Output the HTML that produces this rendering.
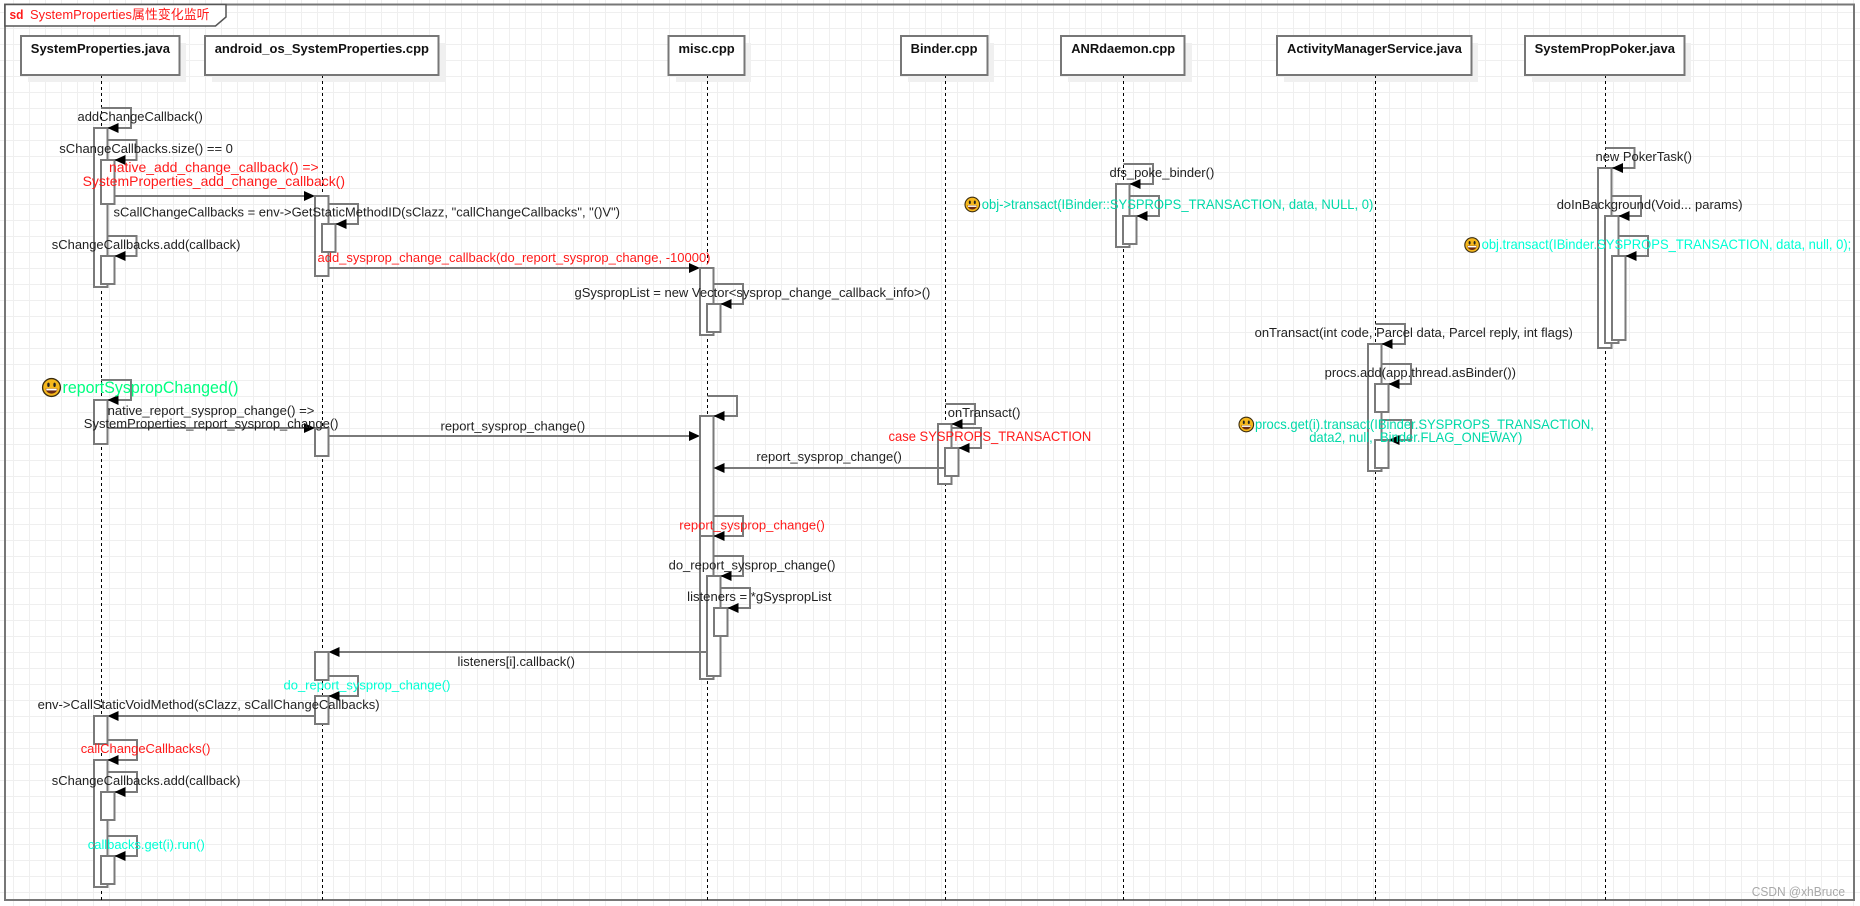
<!DOCTYPE html>
<html><head><meta charset="utf-8"><title>SystemProperties</title>
<style>
html,body{margin:0;padding:0;background:#fff}
svg{display:block}
text{font-family:"Liberation Sans","Noto Sans CJK SC",sans-serif;font-size:13px;fill:#222;white-space:pre}
.h{font-weight:bold;fill:#111}
.r{fill:#ff1a1a;font-size:14px}
.r13{fill:#ff1a1a}
.t{fill:#00d9a9;font-size:14px}
.c{fill:#00ffd5}
.box{fill:#fff;stroke:#777;stroke-width:2}
.a{fill:#fff;stroke:#7a7a7a;stroke-width:2}
.s{fill:none;stroke:#7a7a7a;stroke-width:2}
.l{stroke:#000;stroke-width:1;stroke-dasharray:3 3;fill:none}
.sh{fill:#f0f0f0}
</style></head>
<body>
<svg xmlns="http://www.w3.org/2000/svg" width="1860" height="906" viewBox="0 0 1860 906">
<defs>
<pattern id="g" width="16" height="16" patternUnits="userSpaceOnUse" x="13" y="12">
<path d="M0.5 0V16M0 0.5H16" fill="none" stroke="#efefef" stroke-width="1"/>
</pattern>
<path id="al" d="M0 0l11-5v10z" fill="#000"/>
<path id="ar" d="M0 0l-11-5v10z" fill="#000"/>
<g id="em">
<circle r="7.3" fill="#f6b81c" stroke="#3a2c10" stroke-width="1.1"/>
<ellipse cx="-2.5" cy="-2.2" rx="1" ry="1.8" fill="#222"/>
<ellipse cx="2.5" cy="-2.2" rx="1" ry="1.8" fill="#222"/>
<path d="M-4.8 0.8H4.800C4.500 6.400 -4.500 6.400 -4.800 0.8Z" fill="#6a2a12"/>
<path d="M-4.300 1H4.300V2.400H-4.300Z" fill="#fff"/>
</g>
</defs>
<rect width="1860" height="906" fill="#fff"/>
<rect width="1860" height="906" fill="url(#g)"/>

<!-- frame -->
<rect x="5" y="4.500" width="1849" height="895.500" fill="none" stroke="#777" stroke-width="2"/>
<path d="M5 4.500H226V17L215.500 26H5Z" fill="#fff" stroke="#555" stroke-width="1.500"/>

<!-- actor shadows -->
<rect class="sh" x="28" y="43" width="158" height="39"/>
<rect class="sh" x="212" y="43" width="233" height="39"/>
<rect class="sh" x="676" y="43" width="75" height="39"/>
<rect class="sh" x="908" y="43" width="86" height="39"/>
<rect class="sh" x="1068" y="43" width="124" height="39"/>
<rect class="sh" x="1284" y="43" width="194" height="39"/>
<rect class="sh" x="1532" y="43" width="159" height="39"/>

<!-- lifelines -->
<path class="l" d="M101.500 75V900M322.500 75V900M707.500 75V900M945.500 75V900M1123.500 75V900M1375.500 75V900M1605.500 75V900"/>

<!-- actors -->
<rect class="box" x="21" y="36" width="158.500" height="39"/>
<rect class="box" x="205" y="36" width="233.500" height="39"/>
<rect class="box" x="668.500" y="36" width="76" height="39"/>
<rect class="box" x="901" y="36" width="86.500" height="39"/>
<rect class="box" x="1061" y="36" width="123.500" height="39"/>
<rect class="box" x="1277" y="36" width="194.500" height="39"/>
<rect class="box" x="1525" y="36" width="159.500" height="39"/>

<!-- column 1 top -->
<polyline class="s" points="101,108 131,108 131,128 107,128"/>
<rect class="a" x="94" y="128" width="13.500" height="159"/>
<polyline class="s" points="107,140 136.500,140 136.500,160 114,160"/>
<rect class="a" x="101" y="160" width="13.500" height="44"/>
<polyline class="s" points="107,236 136.500,236 136.500,256 114,256"/>
<rect class="a" x="101" y="256" width="13.500" height="28"/>
<use href="#al" x="107.500" y="128"/><use href="#al" x="114.500" y="160"/><use href="#al" x="114.500" y="256"/>

<!-- column 2 top -->
<line class="s" x1="114" y1="196" x2="310" y2="196"/>
<use href="#ar" x="315" y="196"/>
<rect class="a" x="315" y="196" width="13.500" height="80"/>
<polyline class="s" points="328,204 358,204 358,224 335,224"/>
<rect class="a" x="322" y="224" width="13.500" height="28"/>
<use href="#al" x="335.500" y="224"/>
<line class="s" x1="328" y1="268" x2="695" y2="268"/>
<use href="#ar" x="700" y="268"/>

<!-- misc top -->
<rect class="a" x="700" y="268" width="13.500" height="67"/>
<polyline class="s" points="713,284 743,284 743,304 720,304"/>
<rect class="a" x="707" y="304" width="13.500" height="28"/>
<use href="#al" x="720.500" y="304"/>

<!-- ANR -->
<polyline class="s" points="1123.500,164 1153,164 1153,184 1129,184"/>
<rect class="a" x="1116" y="184" width="13.500" height="63"/>
<polyline class="s" points="1129,196 1159,196 1159,216 1136,216"/>
<rect class="a" x="1123" y="216" width="13.500" height="28"/>
<use href="#al" x="1129.500" y="184"/><use href="#al" x="1136.500" y="216"/>

<!-- Poker -->
<polyline class="s" points="1605.500,148 1634.500,148 1634.500,168 1612,168"/>
<rect class="a" x="1598" y="168" width="13.500" height="180"/>
<polyline class="s" points="1611.500,196 1641,196 1641,216 1618,216"/>
<rect class="a" x="1605" y="216" width="13.500" height="127"/>
<polyline class="s" points="1618,236 1648,236 1648,256 1625,256"/>
<rect class="a" x="1612" y="256" width="13.500" height="84"/>
<use href="#al" x="1612" y="168"/><use href="#al" x="1618.500" y="216"/><use href="#al" x="1625.500" y="256"/>

<!-- AMS -->
<polyline class="s" points="1375.500,324 1405,324 1405,344 1381,344"/>
<rect class="a" x="1368" y="344" width="13.500" height="127"/>
<polyline class="s" points="1381,364 1411,364 1411,384 1388,384"/>
<rect class="a" x="1375" y="384" width="13.500" height="28"/>
<polyline class="s" points="1381,420 1411,420 1411,440 1388,440"/>
<rect class="a" x="1375" y="440" width="13.500" height="28"/>
<use href="#al" x="1381.500" y="344"/><use href="#al" x="1388.500" y="384"/><use href="#al" x="1388.500" y="440"/>

<!-- column 1 middle -->
<polyline class="s" points="101,380 131,380 131,400 107,400"/>
<rect class="a" x="94" y="400" width="13.500" height="44"/>
<use href="#al" x="107.500" y="400"/>
<line class="s" x1="107" y1="428" x2="310" y2="428"/>
<use href="#ar" x="315" y="428"/>
<rect class="a" x="315" y="428" width="13.500" height="28"/>
<line class="s" x1="328" y1="436" x2="695" y2="436"/>
<use href="#ar" x="700" y="436"/>

<!-- misc middle -->
<polyline class="s" points="707.500,396 737,396 737,416 713,416"/>
<rect class="a" x="700" y="416" width="13.500" height="124"/>
<use href="#al" x="713.500" y="416"/>

<!-- binder -->
<polyline class="s" points="945.500,404 975,404 975,424 951,424"/>
<rect class="a" x="938" y="424" width="13.500" height="60"/>
<polyline class="s" points="951,428 981,428 981,448 958,448"/>
<rect class="a" x="945" y="448" width="13.500" height="28"/>
<use href="#al" x="951.500" y="424"/><use href="#al" x="958.500" y="448"/>
<line class="s" x1="945" y1="468" x2="720" y2="468"/>
<use href="#al" x="713.500" y="468"/>

<!-- misc bottom -->
<polyline class="s" points="713,516 743,516 743,536 713,536"/>
<rect class="a" x="700" y="536" width="13.500" height="143"/>
<use href="#al" x="713.500" y="536"/>
<polyline class="s" points="713,556 743,556 743,576 720,576"/>
<rect class="a" x="707" y="576" width="13.500" height="100"/>
<use href="#al" x="720.500" y="576"/>
<polyline class="s" points="720,588 750,588 750,608 727,608"/>
<rect class="a" x="714" y="608" width="13.500" height="28"/>
<use href="#al" x="727.500" y="608"/>

<!-- column 2 bottom -->
<line class="s" x1="707" y1="652" x2="335" y2="652"/>
<use href="#al" x="328.500" y="652"/>
<rect class="a" x="315" y="652" width="13.500" height="28"/>
<polyline class="s" points="328,676 358,676 358,696 328,696"/>
<rect class="a" x="315" y="696" width="13.500" height="28"/>
<use href="#al" x="328.500" y="696"/>
<line class="s" x1="315" y1="716" x2="114" y2="716"/>
<use href="#al" x="107.500" y="716"/>

<!-- column 1 bottom -->
<rect class="a" x="94" y="716" width="13.500" height="28"/>
<polyline class="s" points="107,740 137,740 137,760 107,760"/>
<rect class="a" x="94" y="760" width="13.500" height="127"/>
<use href="#al" x="107.500" y="760"/>
<polyline class="s" points="107,772 137,772 137,792 114,792"/>
<rect class="a" x="101" y="792" width="13.500" height="28"/>
<use href="#al" x="114.500" y="792"/>
<polyline class="s" points="107,836 137,836 137,856 114,856"/>
<rect class="a" x="101" y="856" width="13.500" height="28"/>
<use href="#al" x="114.500" y="856"/>

<!-- title -->
<text x="9.500" y="19" style="font-weight:bold;fill:#ff1a1a;font-size:13px" textLength="14" lengthAdjust="spacingAndGlyphs">sd</text>
<text x="30" y="19" class="r13" textLength="179.600" lengthAdjust="spacingAndGlyphs">SystemProperties属性变化监听</text>

<!-- headers -->
<text class="h" x="30.800" y="53" textLength="139.200" lengthAdjust="spacingAndGlyphs">SystemProperties.java</text>
<text class="h" x="214.700" y="53" textLength="214.300" lengthAdjust="spacingAndGlyphs">android_os_SystemProperties.cpp</text>
<text class="h" x="678.500" y="53" textLength="56.200" lengthAdjust="spacingAndGlyphs">misc.cpp</text>
<text class="h" x="910.600" y="53" textLength="66.900" lengthAdjust="spacingAndGlyphs">Binder.cpp</text>
<text class="h" x="1071.200" y="53" textLength="104" lengthAdjust="spacingAndGlyphs">ANRdaemon.cpp</text>
<text class="h" x="1287" y="53" textLength="174.800" lengthAdjust="spacingAndGlyphs">ActivityManagerService.java</text>
<text class="h" x="1534.600" y="53" textLength="140.400" lengthAdjust="spacingAndGlyphs">SystemPropPoker.java</text>

<!-- labels -->
<text x="77.500" y="121" textLength="125.300" lengthAdjust="spacingAndGlyphs">addChangeCallback()</text>
<text x="59.300" y="153" textLength="173.600" lengthAdjust="spacingAndGlyphs">sChangeCallbacks.size() == 0</text>
<text class="r" x="109" y="172" textLength="209.700" lengthAdjust="spacingAndGlyphs">native_add_change_callback() =&gt;</text>
<text class="r" x="82.600" y="186" textLength="262.400" lengthAdjust="spacingAndGlyphs">SystemProperties_add_change_callback()</text>
<text x="113.500" y="216.500" textLength="506.500" lengthAdjust="spacingAndGlyphs">sCallChangeCallbacks = env-&gt;GetStaticMethodID(sClazz, "callChangeCallbacks", "()V")</text>
<text x="51.800" y="249" textLength="188.600" lengthAdjust="spacingAndGlyphs">sChangeCallbacks.add(callback)</text>
<text class="r13" x="317.500" y="262" textLength="393" lengthAdjust="spacingAndGlyphs">add_sysprop_change_callback(do_report_sysprop_change, -10000)</text>
<text x="574.500" y="297" textLength="355.900" lengthAdjust="spacingAndGlyphs">gSyspropList = new Vector&lt;sysprop_change_callback_info&gt;()</text>

<use href="#em" x="972.300" y="204.500"/>
<text class="t" x="981.800" y="209" textLength="391.500" lengthAdjust="spacingAndGlyphs">obj-&gt;transact(IBinder::SYSPROPS_TRANSACTION, data, NULL, 0)</text>
<text x="1109.500" y="177" textLength="104.800" lengthAdjust="spacingAndGlyphs">dfs_poke_binder()</text>
<text x="1595.500" y="161" textLength="96.500" lengthAdjust="spacingAndGlyphs">new PokerTask()</text>
<text x="1556.700" y="209" textLength="185.900" lengthAdjust="spacingAndGlyphs">doInBackground(Void... params)</text>
<use href="#em" x="1472.100" y="245"/>
<text class="t c" x="1481.600" y="249" textLength="369.700" lengthAdjust="spacingAndGlyphs">obj.transact(IBinder.SYSPROPS_TRANSACTION, data, null, 0);</text>
<text x="1254.600" y="337" textLength="318.300" lengthAdjust="spacingAndGlyphs">onTransact(int code, Parcel data, Parcel reply, int flags)</text>
<text x="1324.600" y="377" textLength="191.400" lengthAdjust="spacingAndGlyphs">procs.add(app.thread.asBinder())</text>
<use href="#em" x="1246.300" y="424.500"/>
<text class="t" x="1255" y="429" textLength="338.900" lengthAdjust="spacingAndGlyphs">procs.get(i).transact(IBinder.SYSPROPS_TRANSACTION,</text>
<text class="t" x="1309.200" y="442" textLength="213.100" lengthAdjust="spacingAndGlyphs">data2, null,  Binder.FLAG_ONEWAY)</text>

<use href="#em" transform="translate(51.500 387.500) scale(1.22)"/>
<text x="62.500" y="393" style="fill:#00ff80;font-size:17px" textLength="175.900" lengthAdjust="spacingAndGlyphs">reportSyspropChanged()</text>
<text x="107.600" y="415" textLength="206.800" lengthAdjust="spacingAndGlyphs">native_report_sysprop_change() =&gt;</text>
<text x="83.800" y="428" textLength="254.700" lengthAdjust="spacingAndGlyphs">SystemProperties_report_sysprop_change()</text>
<text x="440.500" y="430.500" textLength="144.700" lengthAdjust="spacingAndGlyphs">report_sysprop_change()</text>
<text x="947.800" y="417" textLength="72.700" lengthAdjust="spacingAndGlyphs">onTransact()</text>
<text class="r" x="888.500" y="441" textLength="202.800" lengthAdjust="spacingAndGlyphs">case SYSPROPS_TRANSACTION</text>
<text x="756.400" y="461" textLength="145.500" lengthAdjust="spacingAndGlyphs">report_sysprop_change()</text>
<text class="r13" x="679.300" y="529.500" textLength="145.500" lengthAdjust="spacingAndGlyphs">report_sysprop_change()</text>
<text x="668.600" y="569.500" textLength="166.900" lengthAdjust="spacingAndGlyphs">do_report_sysprop_change()</text>
<text x="687.200" y="601" textLength="144.300" lengthAdjust="spacingAndGlyphs">listeners = *gSyspropList</text>
<text x="457.500" y="666" textLength="117.400" lengthAdjust="spacingAndGlyphs">listeners[i].callback()</text>
<text class="c" x="283.500" y="689.500" textLength="166.900" lengthAdjust="spacingAndGlyphs">do_report_sysprop_change()</text>
<text x="37.600" y="709" textLength="342" lengthAdjust="spacingAndGlyphs">env-&gt;CallStaticVoidMethod(sClazz, sCallChangeCallbacks)</text>
<text class="r13" x="80.700" y="753" textLength="129.700" lengthAdjust="spacingAndGlyphs">callChangeCallbacks()</text>
<text x="51.800" y="785" textLength="188.600" lengthAdjust="spacingAndGlyphs">sChangeCallbacks.add(callback)</text>
<text class="c" x="87.800" y="849" textLength="117" lengthAdjust="spacingAndGlyphs">callbacks.get(i).run()</text>

<text x="1751.700" y="896" style="fill:#a9a9a9" textLength="93.300" lengthAdjust="spacingAndGlyphs">CSDN @xhBruce</text>
</svg>
</body></html>
